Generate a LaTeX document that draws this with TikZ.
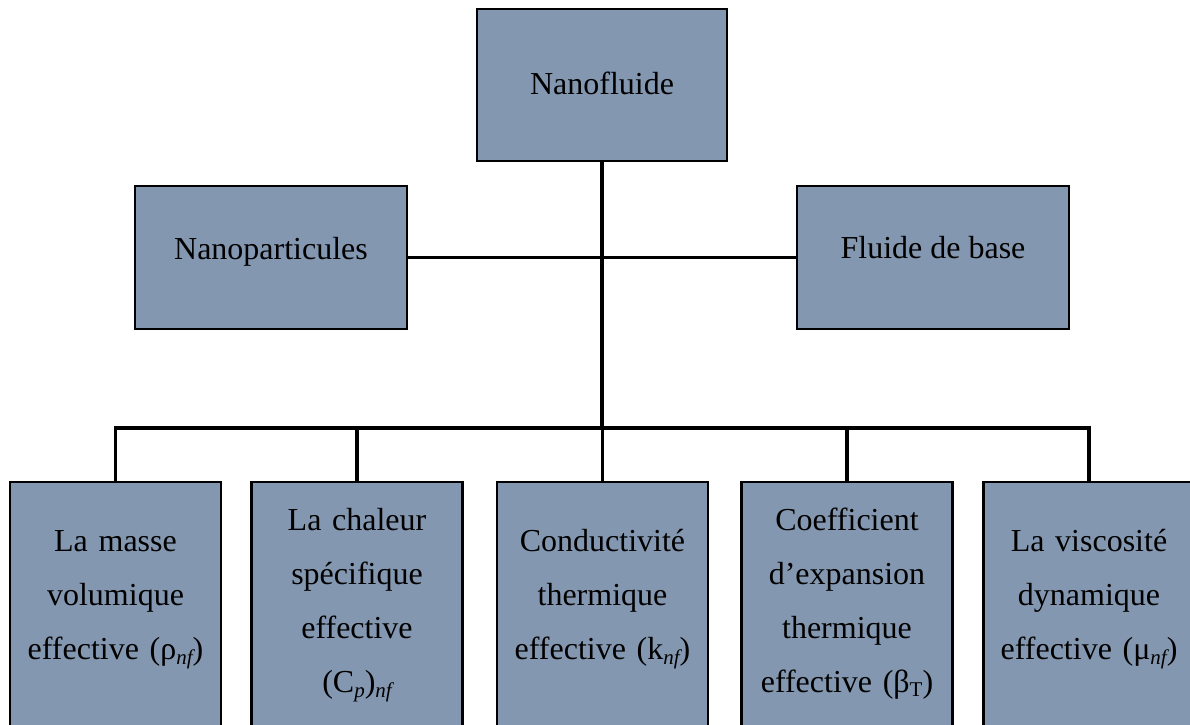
\documentclass[tikz,border=0pt]{standalone}
\usepackage{fontspec}
\setmainfont{Liberation Serif}
\definecolor{boxfill}{HTML}{8497B0}
\newcommand{\subit}[1]{\raisebox{-0.18em}{\fontsize{21}{21}\selectfont\itshape #1}}
\newcommand{\subup}[1]{\raisebox{-0.15em}{\fontsize{21}{21}\selectfont #1}}
\begin{document}
\begin{tikzpicture}[x=1pt,y=-1pt,
  box/.style={draw=black, line width=2.2pt, fill=boxfill, inner sep=0pt, outer sep=0pt, rectangle},
  topbox/.style={box, minimum width=272pt, minimum height=143pt},
  botbox/.style={box, minimum width=211pt, minimum height=318pt},
  lbl/.style={font=\fontsize{32}{54}\selectfont, inner sep=0pt, anchor=base, align=center},
  mlbl/.style={lbl, text width=205pt},
  conn/.style={line width=3.2pt}]
\useasboundingbox (0,0) rectangle (1190,724);
\clip (0,0) rectangle (1190,724);

% boxes
\node[box, minimum width=250pt, minimum height=152pt] (nf) at (602,85) {};
\node[topbox] (np) at (271,257.5) {};
\node[topbox] (fb) at (933,257.5) {};
\node[botbox] (b1) at (115.5,641) {};
\node[botbox] (b2) at (357,641) {};
\node[botbox] (b3) at (602.5,641) {};
\node[botbox] (b4) at (847,641) {};
\node[botbox] (b5) at (1089,641) {};

% connectors
\coordinate (busc) at (602,428);
\draw[conn] (nf.south) -- (busc);
\draw[conn] (np.east) -- (fb.west);
\draw[conn] (b1.north) |- (busc) -| (b5.north);
\draw[conn] (b2.north) -- (b2.north |- busc);
\draw[conn] (b3.north) -- (b3.north |- busc);
\draw[conn] (b4.north) -- (b4.north |- busc);

% labels
\node[lbl] (tnf) at (602,94) {Nanofluide};
\node[lbl] (tnp) at (271,259) {Nanoparticules};
\node[lbl] (tfb) at (933,258) {Fluide de base};
\node[mlbl] (t1) at (115.5,551) {La masse\\volumique\\effective (ρ\subit{nf})};
\node[mlbl] (t2) at (357,530) {La chaleur\\spécifique\\effective\\(C\subit{p})\subit{nf}};
\node[mlbl] (t3) at (602.5,551) {Conductivité\\thermique\\effective (k\subit{nf})};
\node[mlbl] (t4) at (847,530) {Coefficient\\d’expansion\\thermique\\effective (β\subup{T})};
\node[mlbl] (t5) at (1089,551) {La viscosité\\dynamique\\effective (μ\subit{nf})};
\end{tikzpicture}
\end{document}
